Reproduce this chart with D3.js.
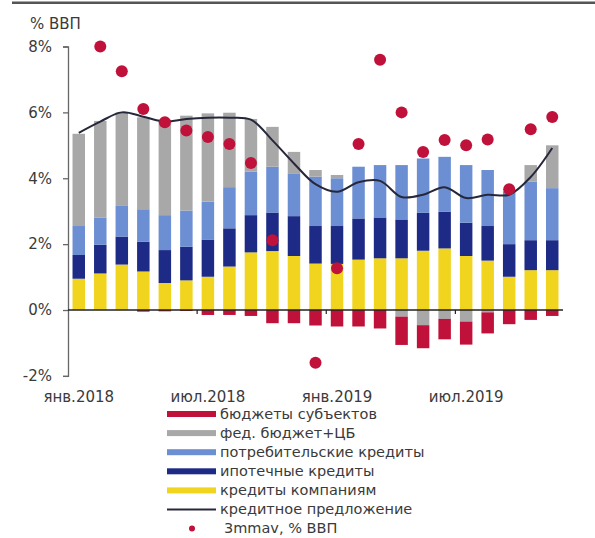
<!DOCTYPE html>
<html>
<head>
<meta charset="utf-8">
<script src="https://cdn.jsdelivr.net/npm/d3@7"></script>
<style>
  body { margin: 0; background: #fff; }
  svg { display: block; }
  text { font-family: "DejaVu Sans", sans-serif; fill: #3a3a3a; }
</style>
</head>
<body>
<div id="chart"></div>
<script>
// months jan 2018 .. nov 2019
const months = ["янв.2018","фев.2018","мар.2018","апр.2018","май.2018","июн.2018",
    "июл.2018","авг.2018","сен.2018","окт.2018","ноя.2018","дек.2018",
    "янв.2019","фев.2019","мар.2019","апр.2019","май.2019","июн.2019",
    "июл.2019","авг.2019","сен.2019","окт.2019","ноя.2019"];
const tickLabels = ["янв.2018", "июл.2018", "янв.2019", "июл.2019"];
const yTicks = [-2, 0, 2, 4, 6, 8];

// stacked series, % of GDP
const companyLoans  = [0.95,1.11,1.38,1.17,0.82,0.90,1.01,1.32,1.75,1.79,1.64,1.41,1.40,1.53,1.57,1.57,1.80,1.87,1.64,1.50,1.01,1.21,1.21];
const mortgageLoans = [0.72,0.87,0.85,0.90,1.00,1.02,1.13,1.16,1.13,1.17,1.21,1.14,1.15,1.25,1.24,1.18,1.15,1.11,1.01,1.05,0.99,0.91,0.91];
const consumerLoans = [0.88,0.83,0.93,0.99,1.06,1.10,1.15,1.25,1.32,1.39,1.30,1.50,1.45,1.57,1.59,1.65,1.65,1.67,1.75,1.70,1.60,1.78,1.58];
const fedBudgetCB   = [2.80,2.93,2.84,2.79,2.90,2.88,2.68,2.26,1.60,1.21,0.65,0.20,0.10,0,0,-0.20,-0.46,-0.27,-0.35,-0.07,0,0.50,1.30];
const regionBudgets = [0,0,0,-0.05,-0.04,-0.03,-0.15,-0.15,-0.18,-0.40,-0.40,-0.47,-0.50,-0.50,-0.56,-0.86,-0.70,-0.62,-0.70,-0.64,-0.43,-0.30,-0.18];
// line and dots
const creditSupply  = [5.38,5.72,6.00,5.87,5.72,5.80,5.84,5.84,5.78,5.15,4.45,3.82,3.59,3.88,3.92,3.43,3.50,3.73,3.40,3.50,3.50,4.04,4.92];
const mma3          = [null,8.00,7.25,6.10,5.70,5.45,5.25,5.04,4.46,2.12,null,-1.60,1.27,5.04,7.60,6.00,4.80,5.16,5.00,5.18,3.67,5.49,5.86];

const seriesKeys  = ["companies", "mortgage", "consumer", "fed", "regions"];
const seriesNames = ["кредиты компаниям", "ипотечные кредиты", "потребительские кредиты", "фед. бюджет+ЦБ", "бюджеты субъектов"];
const seriesColors = ["#f1d41e", "#1d2a86", "#6c8ed2", "#a8a8a8", "#c0113a"];

const width = 595, height = 538;
const svg = d3.select("#chart").append("svg")
    .attr("width", width).attr("height", height);

svg.append("rect").attr("width", width).attr("height", height).attr("fill", "#fff");

// top rule
svg.append("line")
    .attr("x1", 12).attr("x2", width).attr("y1", 2.8).attr("y2", 2.8)
    .attr("stroke", "#555").attr("stroke-width", 2.4);

const x = d3.scaleBand()
    .domain(months)
    .range([68, 563])
    .paddingInner(0.42)
    .paddingOuter(0.21);

const y = d3.scaleLinear()
    .domain([-2, 8])
    .range([375.9, 46.5]);

let table = months.map((m, i) => ({
    month: m,
    companies: companyLoans[i],
    mortgage: mortgageLoans[i],
    consumer: consumerLoans[i],
    fed: fedBudgetCB[i],
    regions: regionBudgets[i]
}));

let stacked = d3.stack()
    .keys(seriesKeys)
    .offset(d3.stackOffsetDiverging)(table);

// bars
svg.append("g")
    .selectAll("g")
    .data(stacked)
    .enter()
    .append("g")
    .attr("fill", (d, i) => seriesColors[i])
    .selectAll("rect")
    .data(d => d)
    .enter()
    .append("rect")
    .attr("x", d => x(d.data.month))
    .attr("width", x.bandwidth())
    .attr("y", d => y(Math.max(d[0], d[1])))
    .attr("height", d => Math.abs(y(d[0]) - y(d[1])));

// y axis
let yAxis = svg.append("g")
    .attr("transform", "translate(68,0)")
    .call(d3.axisLeft(y).tickValues(yTicks).tickSize(5).tickPadding(11).tickFormat(d => d + "%"));
yAxis.select(".domain").attr("stroke", "#666").attr("stroke-width", 1.3);
yAxis.selectAll(".tick line").attr("stroke", "#666").attr("stroke-width", 1.3);
yAxis.selectAll("text").attr("font-size", 15).attr("fill", "#3a3a3a")
    .style("font-family", "'DejaVu Sans', sans-serif");

// zero line
svg.append("line")
    .attr("x1", 68).attr("x2", 563)
    .attr("y1", y(0)).attr("y2", y(0))
    .attr("stroke", "#222").attr("stroke-width", 1.6);

// small category ticks every half year
svg.append("g")
    .selectAll("line")
    .data(months.filter((m, i) => i % 6 == 0 && i > 0))
    .enter()
    .append("line")
    .attr("x1", d => x(d) - x.step() * x.paddingInner() / 2)
    .attr("x2", d => x(d) - x.step() * x.paddingInner() / 2)
    .attr("y1", y(0)).attr("y2", y(0) + 4)
    .attr("stroke", "#222").attr("stroke-width", 1.2);

// x labels
svg.append("g")
    .selectAll("text")
    .data(tickLabels)
    .enter()
    .append("text")
    .attr("x", d => x(d) + x.bandwidth() / 2)
    .attr("y", 402)
    .attr("text-anchor", "middle")
    .attr("font-size", 15)
    .text(d => d);

// unit label
svg.append("text")
    .attr("x", 30).attr("y", 29)
    .attr("font-size", 15)
    .text("% ВВП");

// credit supply line
let line = d3.line()
    .x((d, i) => x(months[i]) + x.bandwidth() / 2)
    .y(d => y(d))
    .curve(d3.curveCatmullRom.alpha(0.5));

svg.append("path")
    .datum(creditSupply)
    .attr("d", line)
    .attr("fill", "none")
    .attr("stroke", "#26283a")
    .attr("stroke-width", 2);

// 3mma dots
svg.append("g")
    .selectAll("circle")
    .data(mma3.map((v, i) => ({v: v, m: months[i]})).filter(d => d.v != null))
    .enter()
    .append("circle")
    .attr("cx", d => x(d.m) + x.bandwidth() / 2)
    .attr("cy", d => y(d.v))
    .attr("r", 6)
    .attr("fill", "#c0113a");

// legend
let legendItems = [
    {name: seriesNames[4], color: seriesColors[4], type: "bar"},
    {name: seriesNames[3], color: seriesColors[3], type: "bar"},
    {name: seriesNames[2], color: seriesColors[2], type: "bar"},
    {name: seriesNames[1], color: seriesColors[1], type: "bar"},
    {name: seriesNames[0], color: seriesColors[0], type: "bar"},
    {name: "кредитное предложение", color: "#26283a", type: "line"},
    {name: "3mmav, % ВВП", color: "#c0113a", type: "dot"}
];

let legend = svg.append("g").attr("transform", "translate(167,414)");
let rows = legend.selectAll("g")
    .data(legendItems)
    .enter()
    .append("g")
    .attr("transform", (d, i) => "translate(0," + (i * 19.1) + ")");

rows.filter(d => d.type == "bar").append("rect")
    .attr("x", 0).attr("y", -3).attr("width", 49).attr("height", 6)
    .attr("fill", d => d.color);
rows.filter(d => d.type == "line").append("line")
    .attr("x1", 0).attr("x2", 49).attr("y1", 0).attr("y2", 0)
    .attr("stroke", d => d.color).attr("stroke-width", 2);
rows.filter(d => d.type == "dot").append("circle")
    .attr("cx", 25).attr("cy", 0).attr("r", 3)
    .attr("fill", d => d.color);

rows.append("text")
    .attr("x", d => d.type == "dot" ? 57 : 53)
    .attr("y", 4.5)
    .attr("font-size", 14.5)
    .text(d => d.name);
</script>
</body>
</html>
